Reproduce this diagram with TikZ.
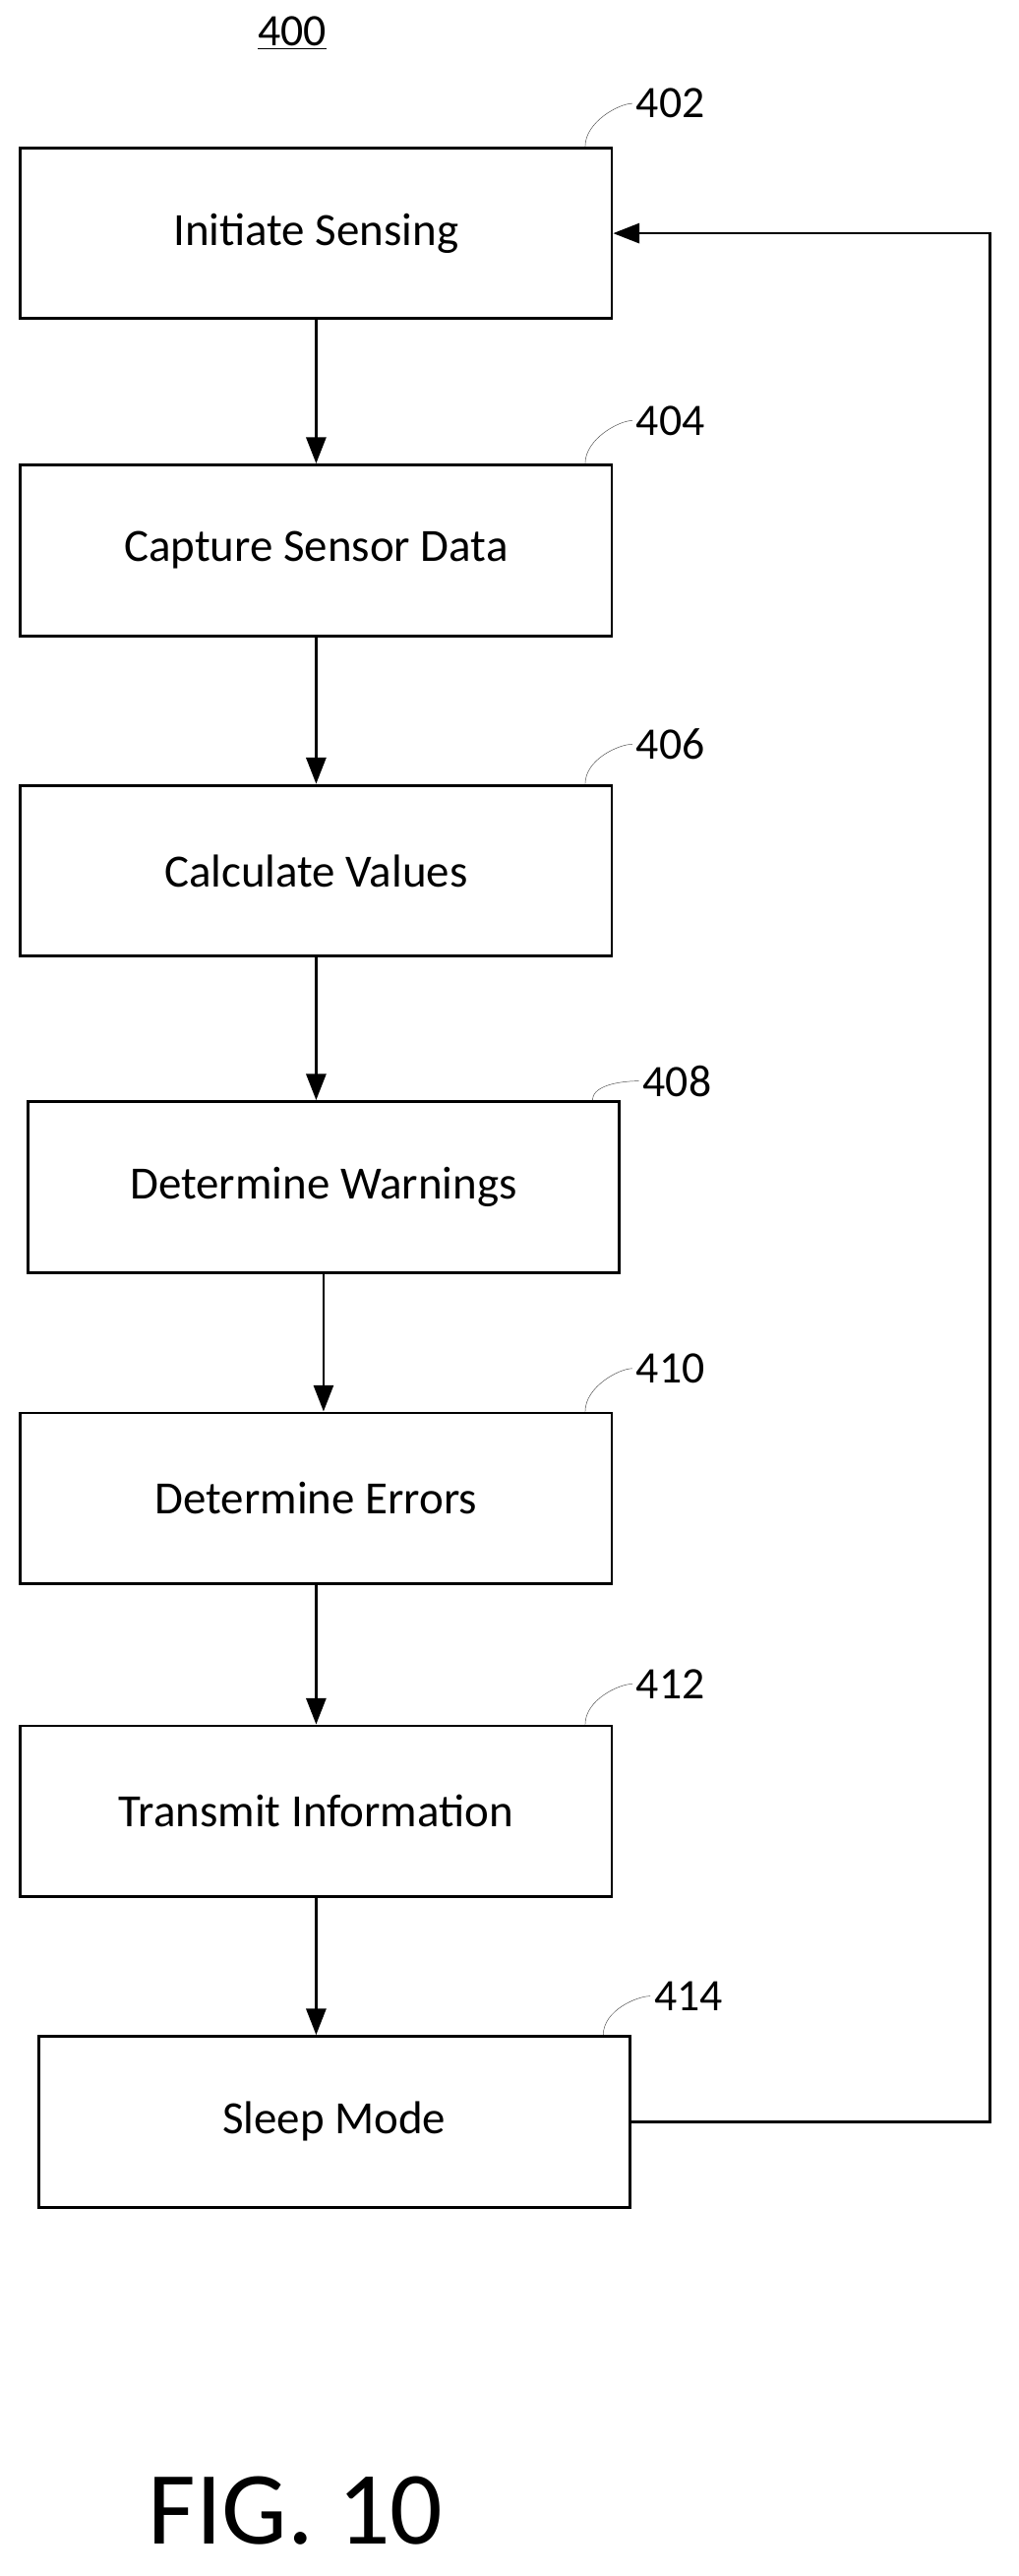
\documentclass[tikz,border=0pt]{standalone}
\usepackage{fontspec}
\setmainfont{Carlito}
\usetikzlibrary{arrows.meta}

\tikzset{
  stepbox/.style={draw, line width=2.4pt, minimum width=18cm, minimum height=5.2cm, font=\fontsize{40}{44}\selectfont},
  reflabel/.style={font=\fontsize{39}{44}\selectfont, anchor=west},
  flow/.style={line width=2.4pt, -{Triangle[length=0.8cm, width=0.6cm]}}
}

\begin{document}
\begin{tikzpicture}[x=0.05cm, y=-0.05cm]
\useasboundingbox (0,0) rectangle (620,1568);
\node (Title) at (178,20) {\fontsize{39}{44}\selectfont\underline{400}};

\node[stepbox] (Init)     at (192.5,142)   {Initiate Sensing};
\node[stepbox] (Capture)  at (192.5,335)   {Capture Sensor Data};
\node[stepbox] (Calc)     at (192.5,530)   {Calculate Values};
\node[stepbox] (Warn)     at (197,722.5)   {Determine Warnings};
\node[stepbox] (Errors)   at (192.5,912)   {Determine Errors};
\node[stepbox] (Transmit) at (192.5,1102.5){Transmit Information};
\node[stepbox] (Sleep)    at (203.5,1291.5){Sleep Mode};

% reference numerals with leaders
\node[reflabel] (L402) at (385,63)   {402}; \draw[gray!60!black] (Init.north east)++(-17,0) .. controls +(0,-15) and +(-8,0) .. (L402.west);
\node[reflabel] (L404) at (385,256)  {404}; \draw[gray!60!black] (Capture.north east)++(-17,0) .. controls +(0,-15) and +(-8,0) .. (L404.west);
\node[reflabel] (L406) at (385,453)  {406}; \draw[gray!60!black] (Calc.north east)++(-17,0) .. controls +(0,-15) and +(-8,0) .. (L406.west);
\node[reflabel] (L408) at (389,658)  {408}; \draw[gray!60!black] (Warn.north east)++(-17,0) .. controls +(0,-10) and +(-8,0) .. (L408.west);
\node[reflabel] (L410) at (385,833)  {410}; \draw[gray!60!black] (Errors.north east)++(-17,0) .. controls +(0,-15) and +(-8,0) .. (L410.west);
\node[reflabel] (L412) at (385,1025) {412}; \draw[gray!60!black] (Transmit.north east)++(-17,0) .. controls +(0,-15) and +(-8,0) .. (L412.west);
\node[reflabel] (L414) at (396,1215) {414}; \draw[gray!60!black] (Sleep.north east)++(-17,0) .. controls +(0,-15) and +(-8,0) .. (L414.west);

\draw[flow] (Init) -- (Capture);
\draw[flow] (Capture) -- (Calc);
\draw[flow] (Calc) -- (Warn.north -| Calc);
\draw[flow] (Warn) -- (Warn.south |- Errors.north);
\draw[flow] (Errors) -- (Transmit);
\draw[flow] (Transmit) -- (Sleep.north -| Transmit);
\coordinate (Loop) at (603,0);
\draw[flow] (Sleep.east) -| (Loop |- Init.east) -- (Init.east);

\node (Fig) at (180,1528) {\fontsize{90}{96}\selectfont FIG. 10};
\end{tikzpicture}
\end{document}
